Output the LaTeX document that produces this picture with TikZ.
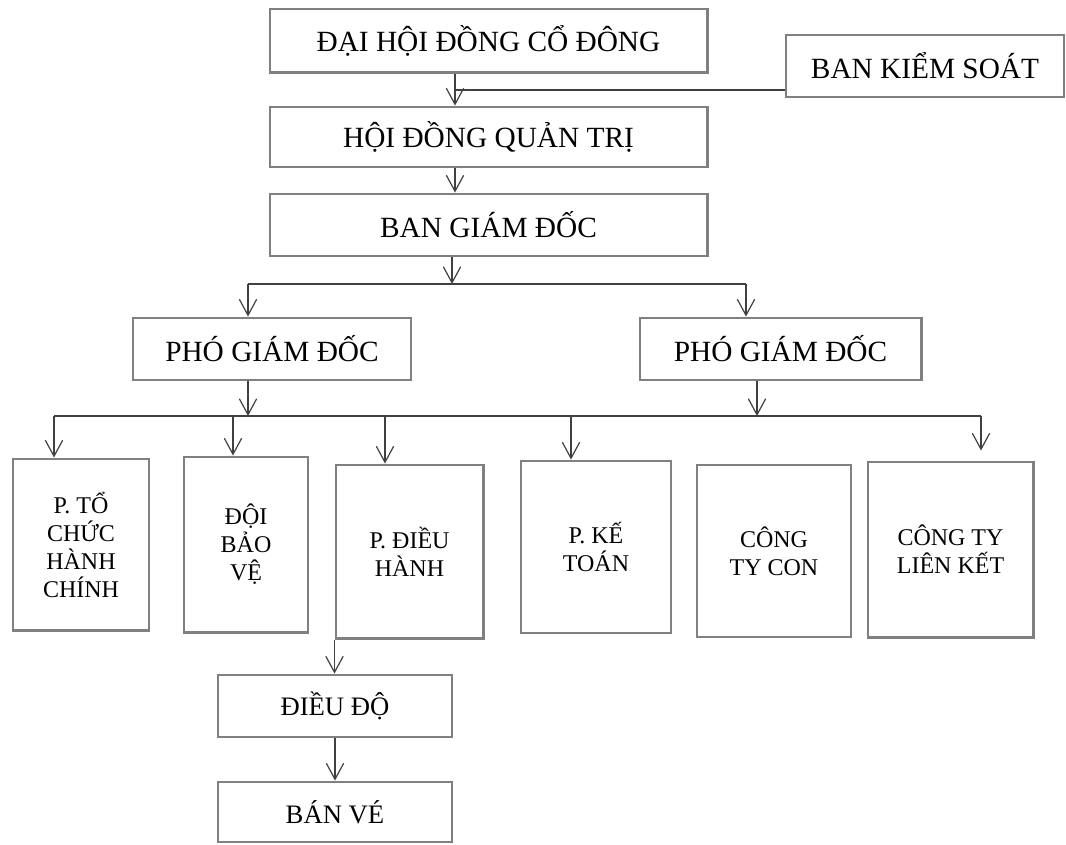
\documentclass[tikz,border=0pt]{standalone}
\usepackage{fontspec}
\setmainfont{Liberation Serif}
\usetikzlibrary{arrows.meta,positioning,calc}
\tikzset{
  box/.style={draw=black!50, line width=2.2pt, fill=white, align=center,
              inner sep=2pt, font=\fontsize{22}{26}\selectfont},
  unitbox/.style={box, font=\fontsize{18}{21}\selectfont},
  subbox/.style={box, font=\fontsize{20}{24}\selectfont},
  link/.style={-{Straight Barb[length=12pt,width=13pt]}, line width=0.9pt, draw=black!75},
  wire/.style={line width=0.9pt, draw=black!75}
}

\begin{document}
\begin{tikzpicture}[x=0.75pt,y=-0.75pt]
  \useasboundingbox (0,0) rectangle (1066,844);

  % top levels
  \node[box, minimum width=327.8pt, minimum height=47.3pt] (dhdcd) at (488.5,40.5) {ĐẠI HỘI ĐỒNG CỔ ĐÔNG};
  \node[box, minimum width=208.5pt, minimum height=46.5pt] (bks) at (925,66) {BAN KIỂM SOÁT};
  \node[box, minimum width=327.8pt, minimum height=45pt] (hdqt) at (488.5,137) {HỘI ĐỒNG QUẢN TRỊ};
  \node[box, minimum width=327.8pt, minimum height=46.5pt] (bgd) at (488.5,225) {BAN GIÁM ĐỐC};

  \node[box, minimum width=208.5pt, minimum height=46.5pt] (pgd1) at (272,349) {PHÓ GIÁM ĐỐC};
  \node[box, minimum width=210.8pt, minimum height=46.5pt] (pgd2) at (780.5,349) {PHÓ GIÁM ĐỐC};

  % departments
  \node[unitbox, minimum width=102pt, minimum height=128.3pt] (ptc) at (81,544.5) {P. TỔ\\CHỨC\\HÀNH\\CHÍNH};
  \node[unitbox, minimum width=93pt, minimum height=131.3pt] (dbv) at (246,544.5) {ĐỘI\\BẢO\\VỆ};
  \node[unitbox, minimum width=110.3pt, minimum height=129.8pt] (pdh) at (409.5,551.5) {P. ĐIỀU\\HÀNH};
  \node[unitbox, minimum width=112.5pt, minimum height=129pt] (pkt) at (596,547) {P. KẾ\\TOÁN};
  \node[unitbox, minimum width=115.5pt, minimum height=129pt] (ctc) at (774,551) {CÔNG\\TY CON};
  \node[unitbox, minimum width=123.8pt, minimum height=131.3pt] (ctlk) at (950.5,549.5) {CÔNG TY\\LIÊN KẾT};

  \node[subbox, minimum width=175.5pt, minimum height=46.5pt] (dd) at (335,706) {ĐIỀU ĐỘ};
  \node[subbox, minimum width=175.5pt, minimum height=45pt] (bv) at (335,812) {BÁN VÉ};

  % main spine
  \coordinate (spine) at (455,90);
  \draw[link] (spine |- dhdcd.south) -- (spine |- hdqt.north);
  \draw[wire] (bks.west |- spine) -- (spine);
  \draw[link] (spine |- hdqt.south) -- (spine |- bgd.north);

  % fork to deputies
  \coordinate (fork) at (452,284);
  \coordinate (forkl) at (248,284);
  \coordinate (forkr) at (746,284);
  \draw[link] (fork |- bgd.south) -- (fork);
  \draw[wire] (forkl) -- (forkr);
  \draw[link] (forkl) -- (forkl |- pgd1.north);
  \draw[link] (forkr) -- (forkr |- pgd2.north);

  % bus to departments
  \coordinate (busl) at (54,416);
  \coordinate (busr) at (981,416);
  \coordinate (jl) at (248,416);
  \coordinate (jr) at (757,416);
  \draw[wire] (busl) -- (busr);
  \draw[link] (jl |- pgd1.south) -- (jl);
  \draw[link] (jr |- pgd2.south) -- (jr);
  \foreach \x/\n in {54/ptc, 233/dbv, 385/pdh, 571/pkt} {
    \coordinate (t\n) at (\x,416);
    \draw[link] (t\n) -- (t\n |- \n.north);
  }
  \draw[link] (busr) -- ($(busr |- ctlk.north)+(0,-10)$);

  % operations branch
  \draw[link] (pdh.south west) -- (pdh.south west |- dd.north);
  \draw[link] (dd.south) -- (bv.north);
\end{tikzpicture}
\end{document}
